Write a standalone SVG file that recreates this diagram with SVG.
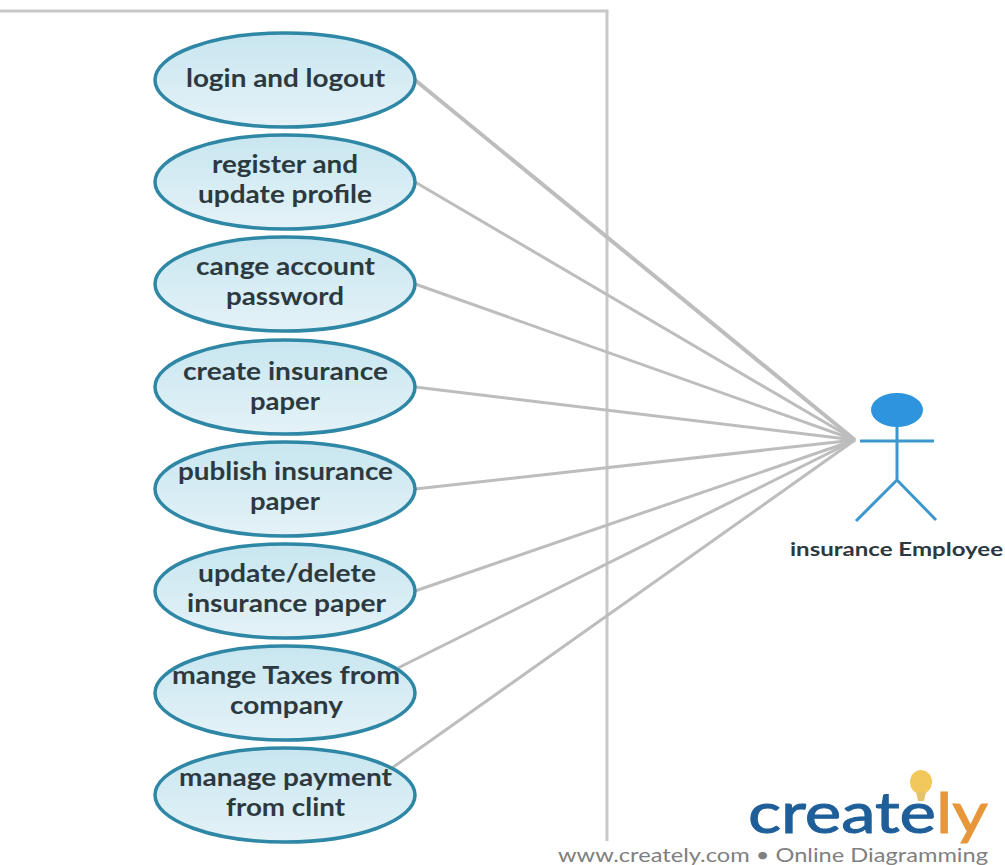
<svg xmlns="http://www.w3.org/2000/svg" width="1005" height="865" viewBox="0 0 1005 865">
<style>
.uc{fill:url(#g);stroke:#2f87a6;stroke-width:3.5}
.t{font-family:Lato,"Open Sans",sans-serif;font-weight:700;font-size:24px;fill:#2c3a40;text-anchor:middle}
.c{stroke:#bdbdbd;stroke-width:3;fill:none}
.a{stroke:#3d97cf;stroke-width:3;fill:none}
</style>
<defs><linearGradient id="g" x1="0" y1="0" x2="0" y2="1"><stop offset="0" stop-color="#c8e6f0"/><stop offset="1" stop-color="#e4f2f7"/></linearGradient></defs>
<rect width="1005" height="865" fill="#fff"/>
<g id="boundary"><path d="M0 11H607V841" fill="none" stroke="#c8c8c8" stroke-width="3"/></g>
<g id="connectors">
<line class="c" style="stroke-width:4" x1="415" y1="80" x2="855" y2="440"/>
<line class="c" x1="415" y1="182" x2="855" y2="440"/>
<line class="c" x1="415" y1="284" x2="855" y2="440"/>
<line class="c" x1="415" y1="387" x2="855" y2="440"/>
<line class="c" x1="415" y1="489" x2="855" y2="440"/>
<line class="c" x1="415" y1="591" x2="855" y2="440"/>
<line class="c" x1="398" y1="668" x2="855" y2="440"/>
<line class="c" x1="392" y1="768" x2="855" y2="440"/>
</g>
<g id="uc1"><ellipse class="uc" cx="285" cy="80" rx="130" ry="47"/><text class="t" x="285.500" y="87" textLength="199" lengthAdjust="spacingAndGlyphs">login and logout</text></g>
<g id="uc2"><ellipse class="uc" cx="285" cy="182" rx="130" ry="47"/><text class="t" x="285" y="173" textLength="146" lengthAdjust="spacingAndGlyphs">register and</text><text class="t" x="285" y="203" textLength="174" lengthAdjust="spacingAndGlyphs">update profile</text></g>
<g id="uc3"><ellipse class="uc" cx="285" cy="284" rx="130" ry="47"/><text class="t" x="285.500" y="275" textLength="179" lengthAdjust="spacingAndGlyphs">cange account</text><text class="t" x="285" y="305" textLength="118" lengthAdjust="spacingAndGlyphs">password</text></g>
<g id="uc4"><ellipse class="uc" cx="285" cy="387" rx="130" ry="47"/><text class="t" x="285.500" y="380" textLength="205" lengthAdjust="spacingAndGlyphs">create insurance</text><text class="t" x="285" y="410" textLength="70" lengthAdjust="spacingAndGlyphs">paper</text></g>
<g id="uc5"><ellipse class="uc" cx="285" cy="489" rx="130" ry="47"/><text class="t" x="285.500" y="480" textLength="215" lengthAdjust="spacingAndGlyphs">publish insurance</text><text class="t" x="285" y="510" textLength="70" lengthAdjust="spacingAndGlyphs">paper</text></g>
<g id="uc6"><ellipse class="uc" cx="285" cy="591" rx="130" ry="47"/><text class="t" x="287" y="582" textLength="178" lengthAdjust="spacingAndGlyphs">update/delete</text><text class="t" x="286.500" y="612" textLength="199" lengthAdjust="spacingAndGlyphs">insurance paper</text></g>
<g id="uc7"><ellipse class="uc" cx="285" cy="693" rx="130" ry="47"/><text class="t" x="286" y="684" textLength="228" lengthAdjust="spacingAndGlyphs">mange Taxes from</text><text class="t" x="286.500" y="714" textLength="113" lengthAdjust="spacingAndGlyphs">company</text></g>
<g id="uc8"><ellipse class="uc" cx="285" cy="795" rx="130" ry="47"/><text class="t" x="285.500" y="786" textLength="213" lengthAdjust="spacingAndGlyphs">manage payment</text><text class="t" x="285.500" y="816" textLength="119" lengthAdjust="spacingAndGlyphs">from clint</text></g>
<g id="actor">
<ellipse cx="897" cy="410" rx="26" ry="17" fill="#2e94dd"/>
<path class="a" d="M897 427V480M860 441H934M897 480L856 521M897 480L936 520"/>
<text x="896.500" y="556" font-family="Lato,sans-serif" font-weight="700" font-size="19" fill="#2c3a40" text-anchor="middle" textLength="213" lengthAdjust="spacingAndGlyphs">insurance Employee</text>
</g>
<g id="logo">
<ellipse cx="921" cy="782" rx="11" ry="12" fill="#f2c75c"/>
<path d="M916 792h10l-2 9h-6z" fill="#e4c36a"/>
<text x="748" y="833" font-family="Lato,sans-serif" font-weight="400" font-size="56" fill="#1f5f99" stroke="#1f5f99" stroke-width="1" textLength="240" lengthAdjust="spacingAndGlyphs">create<tspan fill="#e8963a" stroke="#e8963a">ly</tspan></text>
<text x="558" y="862" font-family="Lato,sans-serif" font-size="20" fill="#808080" textLength="430" lengthAdjust="spacingAndGlyphs">www.creately.com • Online Diagramming</text>
</g>
</svg>
